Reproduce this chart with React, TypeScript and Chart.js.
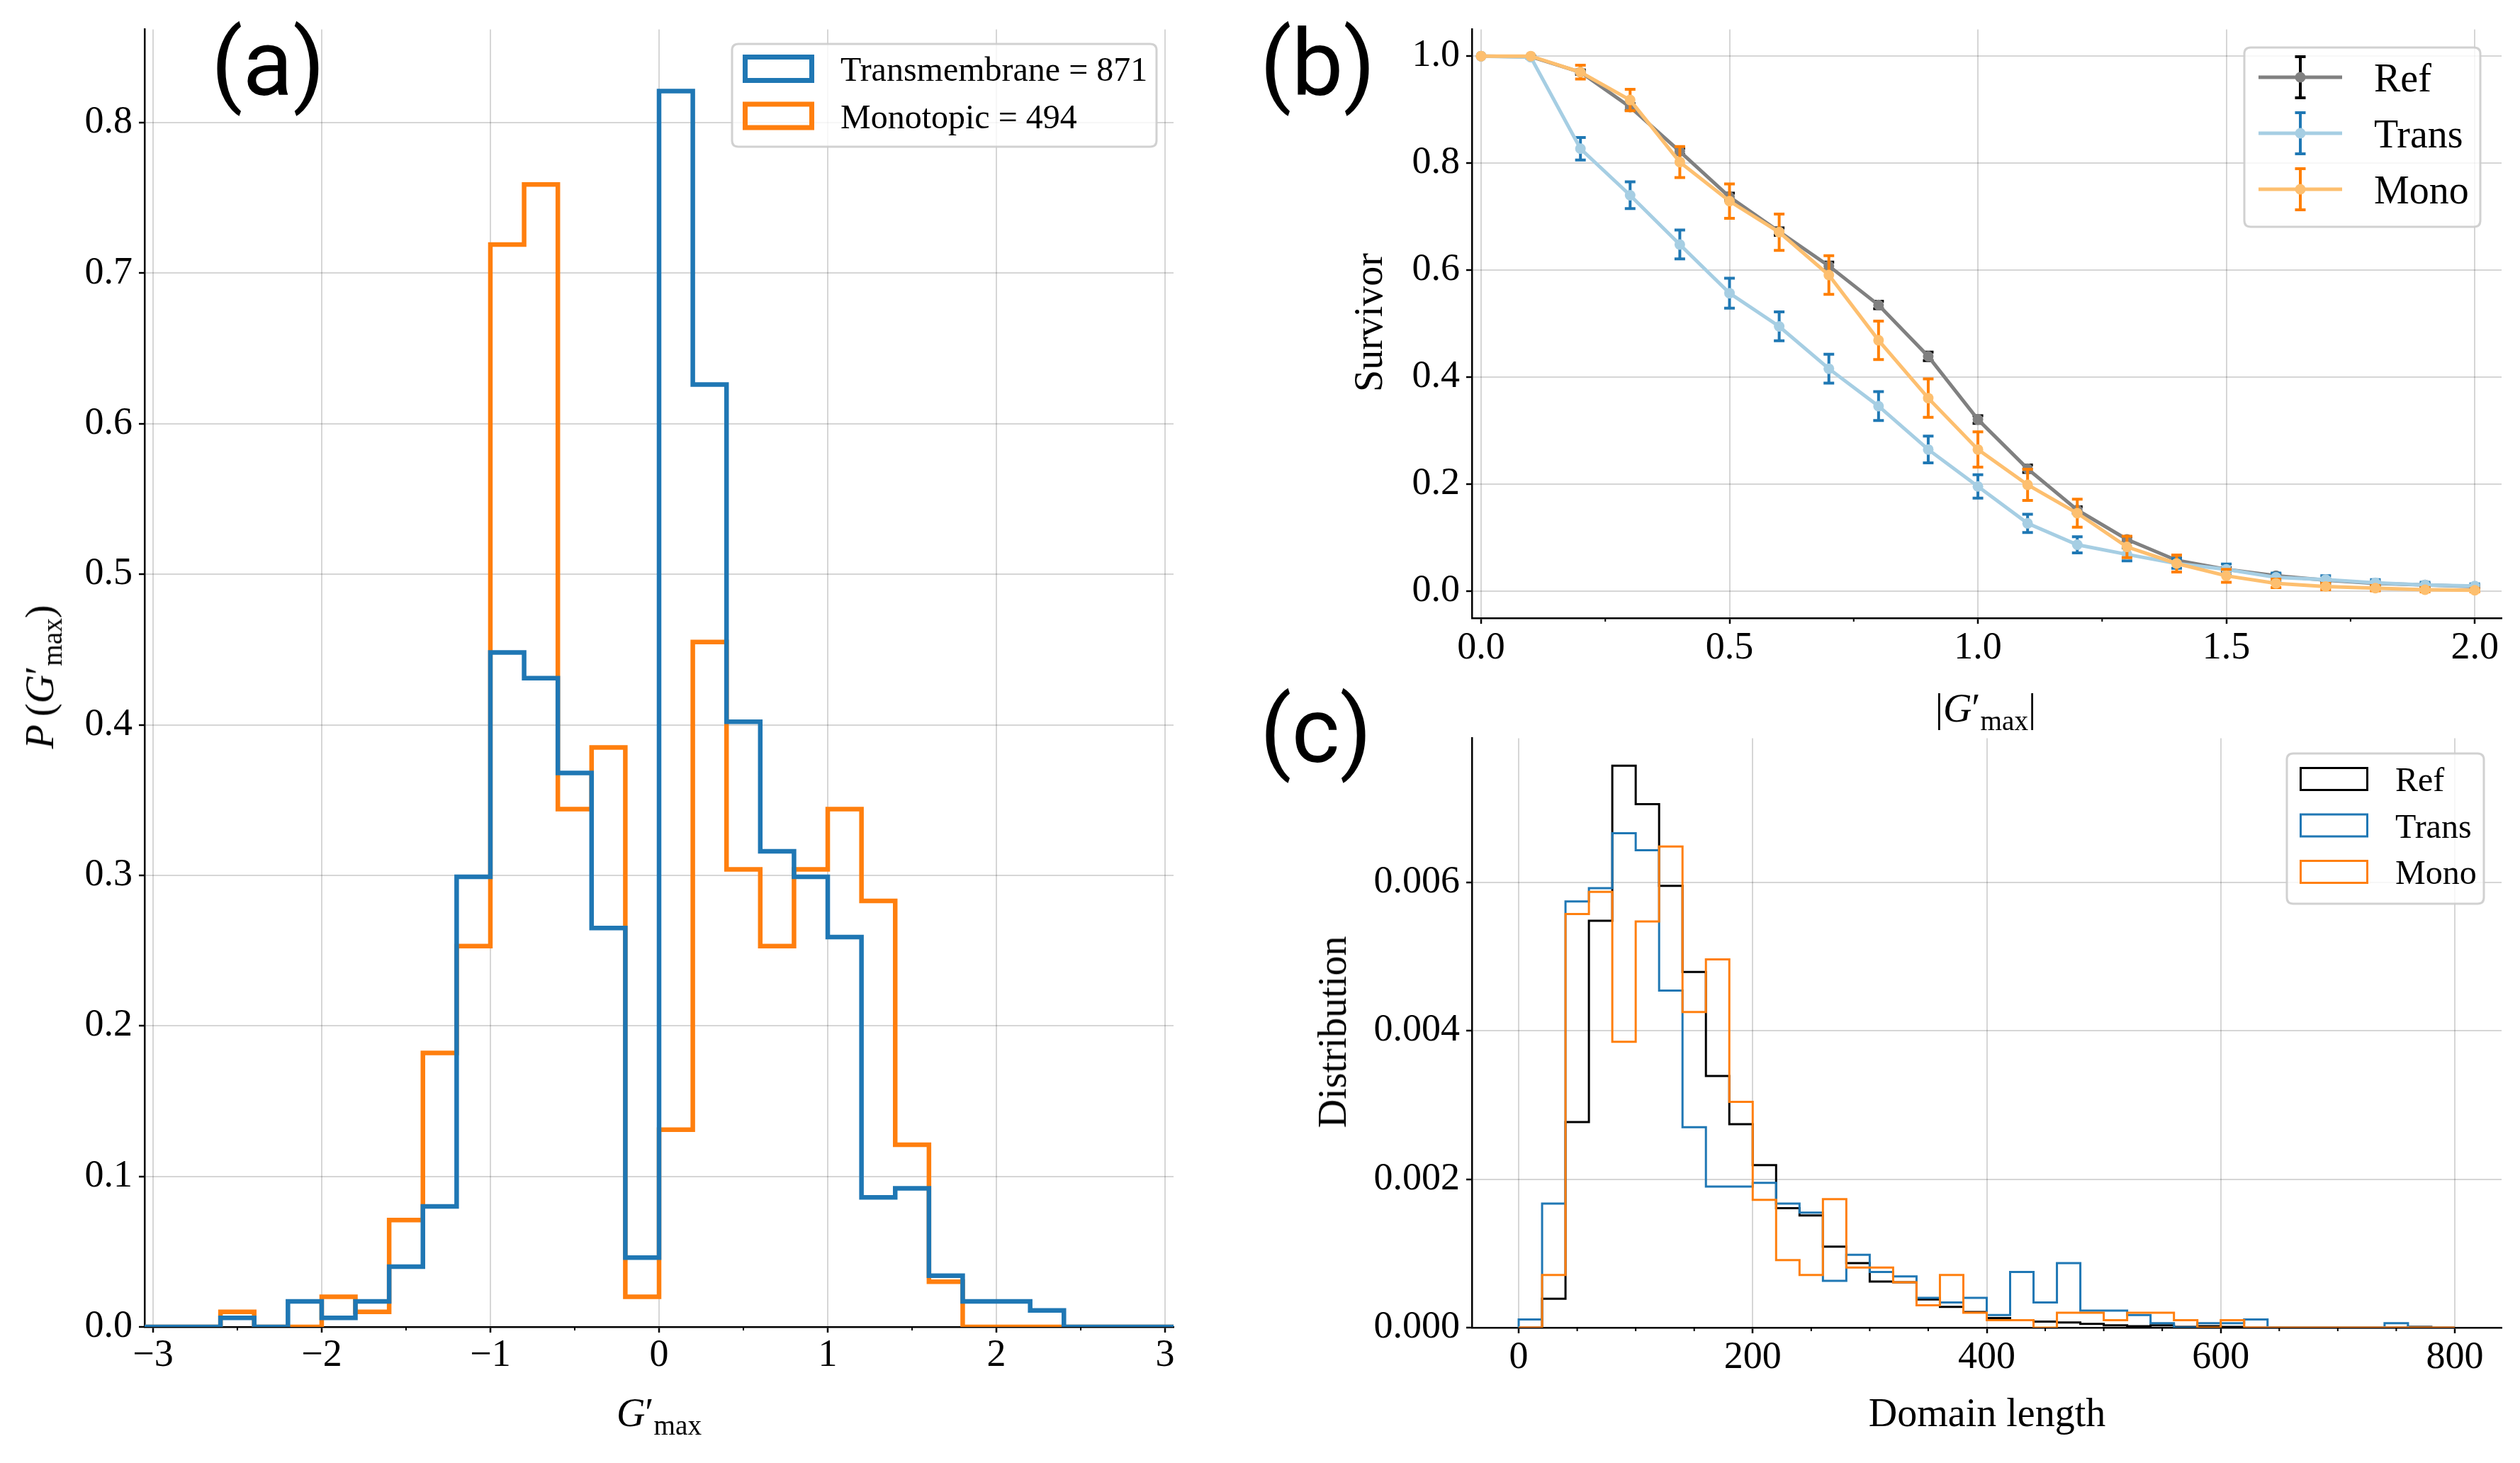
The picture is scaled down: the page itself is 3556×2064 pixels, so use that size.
import { useEffect, useRef } from "react"
import { Chart, registerables } from "chart.js"

Chart.register(...registerables)

const SERIF = '"Liberation Serif", "DejaVu Serif", serif'
const SANS = 'Roboto, "Liberation Sans", sans-serif'
const GRID = "rgba(0, 0, 0, 0.16)"

Chart.defaults.font.family = SERIF
Chart.defaults.color = "#000"

// ---- panel (a): histogram of G'max, bin width 0.2 ----
const A_EDGES = [
  -3.2, -3.0, -2.8, -2.6, -2.4, -2.2, -2.0, -1.8, -1.6, -1.4, -1.2, -1.0, -0.8, -0.6, -0.4, -0.2, 0,
  0.2, 0.4, 0.6, 0.8, 1.0, 1.2, 1.4, 1.6, 1.8, 2.0, 2.2, 2.4, 2.6, 2.8, 3.0, 3.2,
]
const A_TRANS = [
  0, 0, 0, 0.006, 0, 0.017, 0.006, 0.017, 0.04, 0.08, 0.299, 0.448, 0.431, 0.368, 0.265, 0.046,
  0.821, 0.626, 0.402, 0.316, 0.299, 0.259, 0.086, 0.092, 0.034, 0.017, 0.017, 0.011, 0, 0, 0, 0,
]
const A_MONO = [
  0, 0, 0, 0.01, 0, 0, 0.02, 0.01, 0.071, 0.182, 0.253, 0.719, 0.759, 0.344, 0.385, 0.02,
  0.131, 0.455, 0.304, 0.253, 0.304, 0.344, 0.283, 0.121, 0.03, 0, 0, 0, 0, 0, 0, 0,
]
const A_X_TICKS = [-3, -2, -1, 0, 1, 2, 3]
const A_Y_TICKS = [0, 0.1, 0.2, 0.3, 0.4, 0.5, 0.6, 0.7, 0.8]
const A_MINOR = [-2.5, -1.5, -0.5, 0.5, 1.5, 2.5]

// ---- panel (b): survivor curves with error bars ----
const B_X = [0, 0.1, 0.2, 0.3, 0.4, 0.5, 0.6, 0.7, 0.8, 0.9, 1.0, 1.1, 1.2, 1.3, 1.4, 1.5, 1.6, 1.7, 1.8, 1.9, 2.0]
const B_REF = [1.0, 0.999, 0.97, 0.905, 0.822, 0.737, 0.672, 0.608, 0.535, 0.439, 0.321, 0.229, 0.152, 0.097, 0.058, 0.041, 0.029, 0.021, 0.015, 0.012, 0.009]
const B_REF_ERR = [0, 0.001, 0.004, 0.006, 0.006, 0.007, 0.007, 0.007, 0.007, 0.008, 0.007, 0.007, 0.006, 0.005, 0.004, 0.003, 0.003, 0.002, 0.002, 0.002, 0.001]
const B_TRANS = [1.0, 0.998, 0.827, 0.74, 0.648, 0.557, 0.495, 0.416, 0.346, 0.265, 0.196, 0.127, 0.087, 0.069, 0.052, 0.041, 0.026, 0.022, 0.016, 0.012, 0.01]
const B_TRANS_ERR = [0, 0.002, 0.021, 0.025, 0.027, 0.028, 0.027, 0.027, 0.027, 0.025, 0.022, 0.017, 0.015, 0.012, 0.009, 0.01, 0.008, 0.007, 0.006, 0.005, 0.004]
const B_MONO = [1.0, 1.0, 0.97, 0.918, 0.802, 0.729, 0.671, 0.591, 0.469, 0.361, 0.265, 0.199, 0.146, 0.083, 0.052, 0.029, 0.015, 0.009, 0.006, 0.003, 0.002]
const B_MONO_ERR = [0, 0, 0.013, 0.02, 0.029, 0.032, 0.034, 0.036, 0.036, 0.036, 0.033, 0.029, 0.026, 0.02, 0.016, 0.012, 0.008, 0.006, 0.005, 0.004, 0.003]
const B_X_TICKS = [0, 0.5, 1.0, 1.5, 2.0]
const B_Y_TICKS = [0, 0.2, 0.4, 0.6, 0.8, 1.0]
const B_MINOR = [0.25, 0.75, 1.25, 1.75]

// ---- panel (c): domain length distributions, bin width 20 ----
const C_EDGES = [
  0, 20, 40, 60, 80, 100, 120, 140, 160, 180, 200, 220, 240, 260, 280, 300, 320, 340, 360, 380, 400,
  420, 440, 460, 480, 500, 520, 540, 560, 580, 600, 620, 640, 660, 680, 700, 720, 740, 760, 780, 800,
]
const C_REF = [
  0, 0.00039, 0.00277, 0.00548, 0.00757, 0.00705, 0.00595, 0.00479, 0.00339, 0.00274, 0.00219,
  0.00161, 0.00151, 0.00109, 0.00087, 0.00062, 0.00061, 0.00038, 0.00028, 0.00021, 0.00013, 0.0001,
  0.00008, 0.00007, 0.00005, 0.00003, 0.00002, 0.00003, 0.00001, 0.00002, 0.00001, 0, 0, 0, 0, 0,
  0, 0, 0.00001, 0,
]
const C_TRANS = [
  0.00011, 0.00167, 0.00574, 0.00592, 0.00666, 0.00643, 0.00454, 0.0027, 0.0019, 0.0019, 0.00195,
  0.00167, 0.00155, 0.00063, 0.00098, 0.00075, 0.00069, 0.0004, 0.00034, 0.0004, 0.00017, 0.00075,
  0.00034, 0.00087, 0.00023, 0.00023, 0.00017, 0.00006, 0, 0.00006, 0.00006, 0.00011, 0, 0, 0, 0,
  0, 0.00006, 0, 0,
]
const C_MONO = [
  0, 0.00071, 0.00557, 0.00587, 0.00385, 0.00547, 0.00648, 0.00425, 0.00496, 0.00304, 0.00172,
  0.00091, 0.00071, 0.00173, 0.00081, 0.00081, 0.00061, 0.0003, 0.00071, 0.0002, 0.0001, 0.0001,
  0, 0.0002, 0.0002, 0.0001, 0.0002, 0.0002, 0.0001, 0, 0.0001, 0, 0, 0, 0, 0, 0, 0, 0, 0,
]
const C_X_TICKS = [0, 200, 400, 600, 800]
const C_Y_TICKS = [0, 0.002, 0.004, 0.006]
const C_MINOR = [50, 100, 150, 250, 300, 350, 450, 500, 550, 650, 700, 750]

type Pt = { x: number; y: number }

// outline of a step histogram: up from the first edge, across each bin, down at the last edge
function stepPoints(edges: number[], values: number[]): Pt[] {
  const pts: Pt[] = [{ x: edges[0], y: 0 }]
  values.forEach((v, i) => pts.push({ x: edges[i], y: v }))
  pts.push({ x: edges[edges.length - 1], y: 0 })
  return pts
}

function linePoints(xs: number[], ys: number[]): Pt[] {
  return xs.map((x, i) => ({ x, y: ys[i] }))
}

const fmt = (v: number, digits: number) => v.toFixed(digits).replace("-", "\u2212")

function axis(min: number, max: number, ticks: number[], digits: number, pad: number, fixed: number, horizontal: boolean) {
  return {
    type: "linear",
    min,
    max,
    afterBuildTicks: (s: any) => {
      s.ticks = ticks.map((value) => ({ value }))
    },
    afterFit: (s: any) => {
      if (horizontal) s.height = fixed
      else s.width = fixed
    },
    grid: { color: GRID, lineWidth: 2, drawTicks: true, tickLength: 8, tickWidth: 2.5, tickColor: "#000" },
    border: { display: true, color: "#000", width: 2.5 },
    ticks: {
      color: "#000",
      font: { family: SERIF, size: 54 },
      padding: pad,
      autoSkip: false,
      maxRotation: 0,
      minRotation: 0,
      callback: (v: any) => fmt(Number(v), digits),
    },
  }
}

// small ticks on the bottom axis between the labelled ones
const minorTicks = {
  id: "minorTicks",
  afterDraw(chart: any, _args: any, opts: any) {
    if (!opts || !opts.values) return
    const { ctx, chartArea } = chart
    const xs = chart.scales.x
    ctx.save()
    ctx.strokeStyle = "#000"
    ctx.lineWidth = 2
    ctx.beginPath()
    opts.values.forEach((v: number) => {
      const px = xs.getPixelForValue(v)
      ctx.moveTo(px, chartArea.bottom)
      ctx.lineTo(px, chartArea.bottom + 5)
    })
    ctx.stroke()
    ctx.restore()
  },
}

// vertical error bars with caps, drawn under each dataset's own line
const errorBars = {
  id: "errorBars",
  beforeDatasetDraw(chart: any, args: any) {
    const ds = chart.data.datasets[args.index]
    if (!ds.errors) return
    const { ctx, chartArea } = chart
    const xs = chart.scales.x
    const ys = chart.scales.y
    ctx.save()
    ctx.beginPath()
    ctx.rect(chartArea.left, chartArea.top, chartArea.right - chartArea.left, chartArea.bottom - chartArea.top)
    ctx.clip()
    ctx.strokeStyle = ds.errorColor
    ctx.lineWidth = 4
    ctx.beginPath()
    ds.data.forEach((p: Pt, i: number) => {
      const e = ds.errors[i]
      if (!e) return
      const px = xs.getPixelForValue(p.x)
      const top = ys.getPixelForValue(p.y + e)
      const bot = ys.getPixelForValue(p.y - e)
      ctx.moveTo(px, top)
      ctx.lineTo(px, bot)
      ctx.moveTo(px - 7.5, top)
      ctx.lineTo(px + 7.5, top)
      ctx.moveTo(px - 7.5, bot)
      ctx.lineTo(px + 7.5, bot)
    })
    ctx.stroke()
    ctx.restore()
  },
}

function roundRectPath(ctx: CanvasRenderingContext2D, x0: number, y0: number, x1: number, y1: number, r: number) {
  ctx.beginPath()
  ctx.moveTo(x0 + r, y0)
  ctx.lineTo(x1 - r, y0)
  ctx.quadraticCurveTo(x1, y0, x1, y0 + r)
  ctx.lineTo(x1, y1 - r)
  ctx.quadraticCurveTo(x1, y1, x1 - r, y1)
  ctx.lineTo(x0 + r, y1)
  ctx.quadraticCurveTo(x0, y1, x0, y1 - r)
  ctx.lineTo(x0, y0 + r)
  ctx.quadraticCurveTo(x0, y0, x0 + r, y0)
  ctx.closePath()
}

// matplotlib-style legend box
const frameLegend = {
  id: "frameLegend",
  afterDraw(chart: any, _args: any, o: any) {
    if (!o || !o.frame) return
    const { ctx } = chart
    const [fx0, fy0, fx1, fy1] = o.frame
    const [sx0, sx1] = o.sym
    ctx.save()
    roundRectPath(ctx, fx0, fy0, fx1, fy1, 9)
    ctx.fillStyle = "rgba(255, 255, 255, 0.8)"
    ctx.fill()
    ctx.strokeStyle = "rgba(204, 204, 204, 0.9)"
    ctx.lineWidth = 3
    ctx.stroke()
    chart.data.datasets.forEach((ds: any, i: number) => {
      const cy = o.rows[i]
      if (o.kind === "patch") {
        const w = o.symW
        ctx.strokeStyle = ds.borderColor
        ctx.lineWidth = w
        ctx.strokeRect(sx0 + w / 2, cy - o.symH / 2 + w / 2, sx1 - sx0 - w, o.symH - w)
      } else {
        const mx = (sx0 + sx1) / 2
        ctx.strokeStyle = ds.borderColor
        ctx.lineWidth = ds.borderWidth
        ctx.beginPath()
        ctx.moveTo(sx0, cy)
        ctx.lineTo(sx1, cy)
        ctx.stroke()
        ctx.strokeStyle = ds.errorColor
        ctx.lineWidth = 4
        ctx.beginPath()
        ctx.moveTo(mx, cy - 29)
        ctx.lineTo(mx, cy + 29)
        ctx.moveTo(mx - 7.5, cy - 29)
        ctx.lineTo(mx + 7.5, cy - 29)
        ctx.moveTo(mx - 7.5, cy + 29)
        ctx.lineTo(mx + 7.5, cy + 29)
        ctx.stroke()
        ctx.fillStyle = ds.pointBackgroundColor
        ctx.beginPath()
        ctx.arc(mx, cy, ds.pointRadius, 0, Math.PI * 2)
        ctx.fill()
      }
      ctx.fillStyle = "#000"
      ctx.font = `${o.font}px ${SERIF}`
      ctx.textAlign = "left"
      ctx.textBaseline = "alphabetic"
      ctx.fillText(ds.label, o.textX, cy + o.base)
    })
    ctx.restore()
  },
}

function histDataset(label: string, color: string, edges: number[], values: number[], width: number, order: number) {
  return {
    label,
    data: stepPoints(edges, values),
    borderColor: color,
    backgroundColor: "transparent",
    borderWidth: width,
    stepped: "before",
    pointRadius: 0,
    fill: false,
    order,
    borderJoinStyle: "miter",
  }
}

function curveDataset(label: string, color: string, errColor: string, ys: number[], errs: number[], order: number) {
  return {
    label,
    data: linePoints(B_X, ys),
    errors: errs,
    errorColor: errColor,
    borderColor: color,
    backgroundColor: color,
    pointBackgroundColor: color,
    pointBorderWidth: 0,
    pointRadius: 7.5,
    borderWidth: 5,
    tension: 0,
    fill: false,
    order,
  }
}

function baseOptions(padTop: number, padRight: number, scales: any, legend: any, minor: number[]) {
  return {
    responsive: false,
    animation: false,
    events: [],
    font: { family: SERIF },
    layout: { padding: { top: padTop, right: padRight, left: 0, bottom: 0 } },
    scales,
    plugins: {
      legend: { display: false },
      tooltip: { enabled: false },
      frameLegend: legend,
      minorTicks: { values: minor },
    },
  }
}

function useChart(ref: React.RefObject<HTMLCanvasElement | null>, build: () => any) {
  useEffect(() => {
    if (!ref.current) return
    const chart = new Chart(ref.current, build())
    return () => chart.destroy()
  }, [])
}

function GMax() {
  return (
    <>
      <i>G</i>
      {"\u2032"}
      <sub style={{ fontSize: "0.7em", verticalAlign: "-0.3em", lineHeight: 0 }}>max</sub>
    </>
  )
}

const textBase: React.CSSProperties = {
  position: "absolute",
  fontFamily: SERIF,
  fontSize: 56,
  lineHeight: 1,
  whiteSpace: "nowrap",
  color: "#000",
  transform: "translate(-50%, -50%)",
}
const rotated: React.CSSProperties = { ...textBase, transform: "translate(-50%, -50%) rotate(-90deg)" }
const panelTag: React.CSSProperties = {
  position: "absolute",
  fontFamily: SANS,
  fontSize: 130,
  lineHeight: 1,
  color: "#000",
  whiteSpace: "nowrap",
}

export default function App() {
  const refA = useRef<HTMLCanvasElement>(null)
  const refB = useRef<HTMLCanvasElement>(null)
  const refC = useRef<HTMLCanvasElement>(null)

  useChart(refA, () => ({
    type: "line",
    data: {
      datasets: [
        histDataset("Transmembrane = 871", "#1f77b4", A_EDGES, A_TRANS, 6.5, 1),
        histDataset("Monotopic = 494", "#ff7f0e", A_EDGES, A_MONO, 6.5, 2),
      ],
    },
    options: baseOptions(
      38,
      64,
      {
        x: axis(-3.05, 3.05, A_X_TICKS, 0, 0, 192, true),
        y: axis(0, 0.862, A_Y_TICKS, 1, 9, 204, false),
      },
      { kind: "patch", frame: [1033, 62, 1632, 207], rows: [97, 163.5], sym: [1048, 1149], symH: 40, symW: 7, textX: 1186, base: 17, font: 48 },
      A_MINOR
    ),
    plugins: [minorTicks, frameLegend],
  }))

  useChart(refB, () => ({
    type: "line",
    data: {
      datasets: [
        curveDataset("Ref", "#808080", "#000000", B_REF, B_REF_ERR, 3),
        curveDataset("Trans", "#a6cee3", "#1f78b4", B_TRANS, B_TRANS_ERR, 2),
        curveDataset("Mono", "#fdbf6f", "#ff7f00", B_MONO, B_MONO_ERR, 1),
      ],
    },
    options: baseOptions(
      38,
      26,
      {
        x: axis(-0.0185, 2.054, B_X_TICKS, 1, 2, 128, true),
        y: axis(-0.05, 1.05, B_Y_TICKS, 1, 9, 337, false),
      },
      { kind: "errorbar", frame: [1427, 67, 1760, 320], rows: [109, 188, 267], sym: [1447, 1565], textX: 1610, base: 20, font: 56 },
      B_MINOR
    ),
    plugins: [errorBars, minorTicks, frameLegend],
  }))

  useChart(refC, () => ({
    type: "line",
    data: {
      datasets: [
        histDataset("Ref", "#000000", C_EDGES, C_REF, 3, 3),
        histDataset("Trans", "#1f77b4", C_EDGES, C_TRANS, 3, 2),
        histDataset("Mono", "#ff7f0e", C_EDGES, C_MONO, 3, 1),
      ],
    },
    options: baseOptions(
      39,
      26,
      {
        x: axis(-40, 840, C_X_TICKS, 0, 2, 191, true),
        y: axis(0, 0.00794, C_Y_TICKS, 3, 9, 337, false),
      },
      { kind: "patch", frame: [1487, 63, 1765, 275], rows: [99, 164.5, 230], sym: [1505, 1602], symH: 34, symW: 3, textX: 1640, base: 17, font: 48 },
      C_MINOR
    ),
    plugins: [minorTicks, frameLegend],
  }))

  return (
    <div style={{ position: "absolute", left: 0, top: 0, width: 3556, height: 2064, background: "#fff", overflow: "hidden" }}>
      <canvas ref={refA} width={1720} height={2064} style={{ position: "absolute", left: 0, top: 0 }} />
      <canvas ref={refB} width={1816} height={1000} style={{ position: "absolute", left: 1740, top: 0 }} />
      <canvas ref={refC} width={1816} height={1064} style={{ position: "absolute", left: 1740, top: 1000 }} />

      <div style={{ ...panelTag, left: 298, top: 25 }}>(a)</div>
      <div style={{ ...panelTag, left: 1778, top: 25 }}>(b)</div>
      <div style={{ ...panelTag, left: 1778, top: 966 }}>(c)</div>

      <div style={{ ...textBase, left: 930, top: 1993 }}>
        <GMax />
      </div>
      <div style={{ ...rotated, left: 56, top: 955 }}>
        <i>P</i>
        {"\u2009("}
        <GMax />)
      </div>
      <div style={{ ...textBase, left: 2802, top: 999 }}>
        |<GMax />|
      </div>
      <div style={{ ...rotated, left: 1931, top: 455 }}>Survivor</div>
      <div style={{ ...rotated, left: 1880, top: 1456 }}>Distribution</div>
      <div style={{ ...textBase, left: 2804, top: 1993 }}>Domain length</div>
    </div>
  )
}
